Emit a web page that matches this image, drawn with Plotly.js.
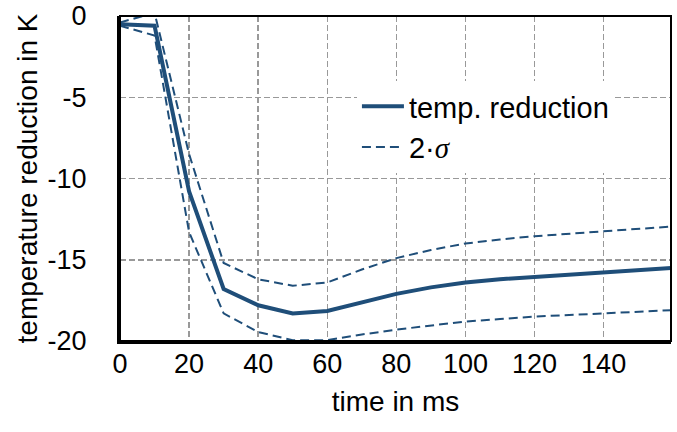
<!DOCTYPE html>
<html>
<head>
<meta charset="utf-8">
<script src="https://cdn.plot.ly/plotly-3.0.1.min.js"></script>
<style>html,body{margin:0;padding:0;background:#fff;}#chart{width:677px;height:432px;}</style>
</head>
<body>
<div id="chart"></div>
<script>
const timeMs = [0,10,20,30,40,50,60,70,80,90,100,110,120,130,140,150,160];
const tempReduction = [-0.5,-0.6,-10.8,-16.8,-17.8,-18.3,-18.15,-17.6,-17.1,-16.7,-16.4,-16.2,-16.05,-15.9,-15.8,-15.65,-15.5];
const upper2Sigma = [-0.4,0.2,-8.5,-15.2,-16.2,-16.6,-16.4,-15.6,-14.9,-14.4,-14.0,-13.75,-13.55,-13.4,-13.25,-13.1,-12.95];
const lower2Sigma = [-0.6,-1.2,-13.3,-18.3,-19.45,-19.95,-19.95,-19.6,-19.3,-19.05,-18.8,-18.65,-18.5,-18.4,-18.3,-18.2,-18.1];
const xTicks = [0,20,40,60,80,100,120,140];
const yTicks = [0,-5,-10,-15,-20];

const blue = '#1F4E79';
const font = 'Liberation Sans, Arial, sans-serif';

const traces = [
  {x: timeMs, y: tempReduction, mode: 'lines', name: 'temp. reduction', legendgroup: 'a',
   line: {color: blue, width: 4}},
  {x: timeMs, y: upper2Sigma, mode: 'lines', name: "2·<i><span style='font-family:Liberation Serif'>σ</span></i>", legendgroup: 'b',
   line: {color: blue, width: 2, dash: '9px,5px'}},
  {x: timeMs, y: lower2Sigma, mode: 'lines', name: 'lower', legendgroup: 'b', showlegend: false,
   line: {color: blue, width: 2, dash: '9px,5px'}}
];

const layout = {
  width: 677, height: 432,
  margin: {l: 120, r: 6, t: 16, b: 91},
  paper_bgcolor: '#fff', plot_bgcolor: '#fff',
  font: {family: font, color: '#000', size: 27},
  showlegend: true,
  legend: {x: 0.43, y: 0.80, xanchor: 'left', yanchor: 'top', bgcolor: '#fff',
           itemwidth: 42,
           font: {size: 29, family: font, color: '#000'}, tracegroupgap: 5, traceorder: 'normal'},
  xaxis: {range: [0, 159.5], tickvals: xTicks, ticktext: xTicks.map(String),
          showgrid: true, gridcolor: '#999999', gridwidth: 1.5, griddash: '6px,3px',
          showline: true, linecolor: '#000', linewidth: 3, zeroline: false,
          ticks: '', ticklabelstandoff: -3, tickfont: {size: 27},
          title: {text: 'time in ms', font: {size: 28}, standoff: 13}},
  yaxis: {range: [-20, 0], tickvals: yTicks, ticktext: yTicks.map(String),
          showgrid: true, gridcolor: '#999999', gridwidth: 1.5, griddash: '6px,3px',
          showline: true, linecolor: '#000', linewidth: 3, zeroline: false,
          ticks: '', ticklabelstandoff: 25, tickfont: {size: 27},
          title: {text: 'temperature reduction in K', font: {size: 28}, standoff: 2}},
  shapes: [{type: 'rect', xref: 'paper', yref: 'paper', x0: 0, x1: 1, y0: 0, y1: 1,
            line: {color: '#000', width: 2}, layer: 'above'}]
};

Plotly.newPlot('chart', traces, layout, {displayModeBar: false, staticPlot: true});
</script>
</body>
</html>
